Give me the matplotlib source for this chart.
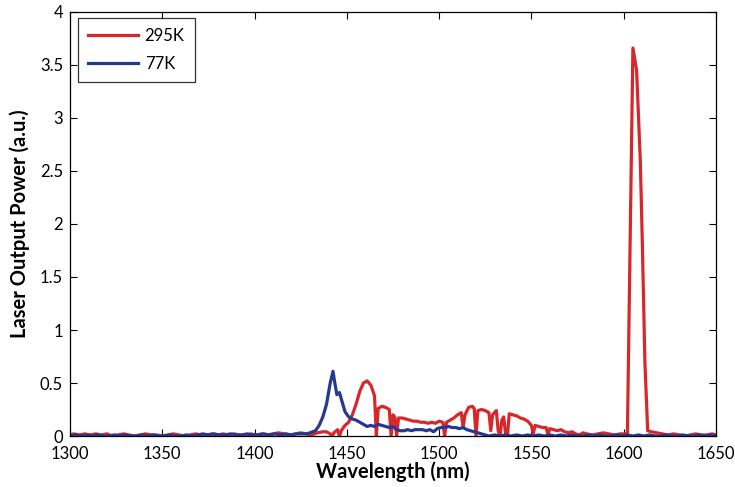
import matplotlib.pyplot as plt

# 295K data (wavelength in nm, power in a.u.)
wl_295 = [1300, 1302, 1305, 1308, 1311, 1314, 1317, 1320, 1323, 1326, 1329, 1332,
          1335, 1338, 1341, 1344, 1347, 1350, 1353, 1356, 1359, 1362, 1365, 1368,
          1371, 1374, 1377, 1380, 1383, 1386, 1389, 1392, 1395, 1398, 1401, 1404,
          1407, 1410, 1413, 1416, 1419, 1422, 1425, 1428, 1431, 1434, 1437, 1439,
          1441, 1442, 1443, 1445, 1446, 1447, 1449, 1451, 1453, 1455, 1457, 1459,
          1461, 1463, 1465, 1466, 1467, 1469, 1471, 1473, 1474, 1475, 1476, 1477,
          1478, 1480, 1482, 1484, 1486, 1488, 1490, 1492, 1494, 1496, 1498, 1500,
          1502, 1503, 1504, 1506, 1508, 1510, 1512, 1513, 1514, 1516, 1518, 1519,
          1520, 1521, 1523, 1525, 1527, 1528, 1529, 1531, 1532, 1533, 1534, 1535,
          1536, 1537, 1538, 1540, 1542, 1544, 1546, 1548, 1550, 1551, 1552, 1554,
          1556, 1558, 1559, 1560, 1562, 1564, 1566, 1568, 1570, 1572, 1574, 1576,
          1578, 1580, 1583, 1586, 1589, 1592, 1595, 1598, 1601, 1602, 1605, 1607,
          1609, 1610, 1611.5, 1613, 1615, 1618, 1621, 1624, 1627, 1630, 1633, 1636,
          1639, 1642, 1645, 1648, 1650]
p_295 = [0.01, 0.02, 0.01, 0.02, 0.01, 0.02, 0.01, 0.02, 0.0, 0.01, 0.02, 0.01,
         0.0, 0.01, 0.02, 0.01, 0.01, 0.0, 0.01, 0.02, 0.01, 0.0, 0.01, 0.02,
         0.01, 0.01, 0.02, 0.01, 0.02, 0.01, 0.02, 0.01, 0.0, 0.02, 0.01, 0.02,
         0.01, 0.02, 0.03, 0.02, 0.01, 0.02, 0.03, 0.02, 0.01, 0.03, 0.04, 0.04,
         0.02, 0.0, 0.03, 0.06, 0.0, 0.05, 0.1, 0.13, 0.2, 0.3, 0.42, 0.5,
         0.52, 0.48, 0.38, 0.0, 0.26, 0.28, 0.27, 0.25, 0.0, 0.2, 0.18, 0.0,
         0.17, 0.17, 0.16, 0.15, 0.14, 0.14, 0.13, 0.13, 0.12, 0.13, 0.12, 0.14,
         0.13, 0.0, 0.13, 0.15, 0.17, 0.2, 0.22, 0.08, 0.2, 0.27, 0.28, 0.26,
         0.0, 0.24, 0.25, 0.24, 0.22, 0.05, 0.2, 0.24, 0.05, 0.0, 0.15, 0.18,
         0.02, 0.0, 0.21, 0.2, 0.19, 0.17, 0.16, 0.14, 0.1, 0.02, 0.1, 0.09,
         0.08, 0.08, 0.01, 0.07, 0.06, 0.05, 0.06, 0.04, 0.03, 0.04, 0.02, 0.01,
         0.03, 0.02, 0.01, 0.02, 0.03, 0.02, 0.01, 0.02, 0.02, 0.0, 3.66, 3.45,
         2.6, 1.9, 0.7, 0.05, 0.04, 0.03, 0.02, 0.01, 0.02, 0.01, 0.0, 0.01,
         0.02, 0.01, 0.01, 0.02, 0.01]

# 77K data
wl_77 = [1300, 1303, 1306, 1309, 1312, 1315, 1318, 1321, 1324, 1327, 1330, 1333,
         1336, 1339, 1342, 1345, 1348, 1351, 1354, 1357, 1360, 1363, 1366, 1369,
         1372, 1375, 1378, 1381, 1384, 1387, 1390, 1393, 1396, 1399, 1402, 1405,
         1408, 1411, 1414, 1417, 1420, 1423, 1426, 1428, 1430, 1433, 1435, 1437,
         1439, 1441, 1442.5, 1443.5, 1444.6, 1446, 1447, 1449, 1451, 1453, 1455,
         1457, 1459, 1461, 1463, 1465, 1467, 1469, 1471, 1473, 1475, 1477, 1479,
         1481, 1483, 1485, 1487, 1489, 1491, 1493, 1495, 1497, 1499, 1501, 1503,
         1505, 1507, 1509, 1511, 1513, 1515, 1517, 1519, 1521, 1523, 1525, 1527,
         1530, 1533, 1536, 1539, 1542, 1545, 1548, 1551, 1554, 1557, 1560, 1563,
         1566, 1569, 1572, 1575, 1578, 1581, 1584, 1587, 1590, 1593, 1596, 1599,
         1602, 1605, 1608, 1611, 1614, 1617, 1620, 1623, 1626, 1629, 1632, 1635,
         1638, 1641, 1644, 1647, 1650]
p_77 = [0.0, 0.01, 0.0, 0.01, 0.0, 0.01, 0.0, 0.0, 0.01, 0.0, 0.01, 0.0,
        0.0, 0.01, 0.0, 0.01, 0.0, 0.0, 0.01, 0.0, 0.0, 0.01, 0.0, 0.01,
        0.02, 0.01, 0.02, 0.01, 0.01, 0.02, 0.01, 0.01, 0.02, 0.01, 0.01, 0.02,
        0.01, 0.02, 0.01, 0.02, 0.01, 0.02, 0.02, 0.02, 0.03, 0.05, 0.1, 0.18,
        0.3, 0.5, 0.61, 0.5, 0.39, 0.41, 0.35, 0.23, 0.18, 0.16, 0.15,
        0.13, 0.11, 0.09, 0.1, 0.09, 0.11, 0.1, 0.09, 0.08, 0.09, 0.06, 0.05,
        0.05, 0.06, 0.05, 0.06, 0.06, 0.06, 0.05, 0.06, 0.04, 0.07, 0.08, 0.08,
        0.09, 0.08, 0.08, 0.07, 0.08, 0.06, 0.05, 0.04, 0.03, 0.02, 0.01, 0.0,
        0.01, 0.0, 0.01, 0.0, 0.01, 0.0, 0.01, 0.0, 0.01, 0.0, 0.01, 0.0,
        0.01, 0.0, 0.01, 0.0, 0.0, 0.01, 0.0, 0.01, 0.0, 0.0, 0.01, 0.0,
        0.01, 0.0, 0.01, 0.0, 0.01, 0.0, 0.0, 0.01, 0.0, 0.0, 0.01, 0.0,
        0.0, 0.01, 0.0, 0.01, 0.0]

x_ticks = [1300, 1350, 1400, 1450, 1500, 1550, 1600, 1650]
y_ticks = [0, 0.5, 1, 1.5, 2, 2.5, 3, 3.5, 4]
y_ticklabels = ['0', '0.5', '1', '1.5', '2', '2.5', '3', '3.5', '4']

plt.rcParams['font.family'] = ['Lato', 'DejaVu Sans']

fig = plt.figure(figsize=(7.35, 4.87), dpi=100)
ax = fig.add_axes([0.0952, 0.1047, 0.8789, 0.8707])

ax.plot(wl_295, p_295, color='#d8272b', linewidth=2.3, label='295K')
ax.plot(wl_77, p_77, color='#253a8e', linewidth=2.3, label='77K')

ax.set_xlim(1300, 1650)
ax.set_ylim(0, 4)
ax.set_xticks(x_ticks)
ax.set_yticks(y_ticks)
ax.set_yticklabels(y_ticklabels)
ax.tick_params(direction='in', length=5, width=0.8, labelsize=12,
               top=True, right=True)
ax.tick_params(axis='x', pad=7)
ax.tick_params(axis='y', pad=5)
for s in ax.spines.values():
    s.set_linewidth(0.9)

ax.set_xlabel('Wavelength (nm)', fontsize=14.5, fontweight='bold', labelpad=0)
ax.set_ylabel('Laser Output Power (a.u.)', fontsize=14.5, fontweight='bold', labelpad=7)

leg = ax.legend(loc='upper left', fontsize=12, handlelength=3.0, frameon=True,
                fancybox=False, edgecolor='black', borderpad=0.6,
                labelspacing=0.7, handletextpad=0.4, borderaxespad=0,
                bbox_to_anchor=(0.0124, 0.986))
leg.get_frame().set_linewidth(0.9)
for t in leg.get_texts():
    t.set_ha('right')

fig.savefig('out.png', dpi=100)
